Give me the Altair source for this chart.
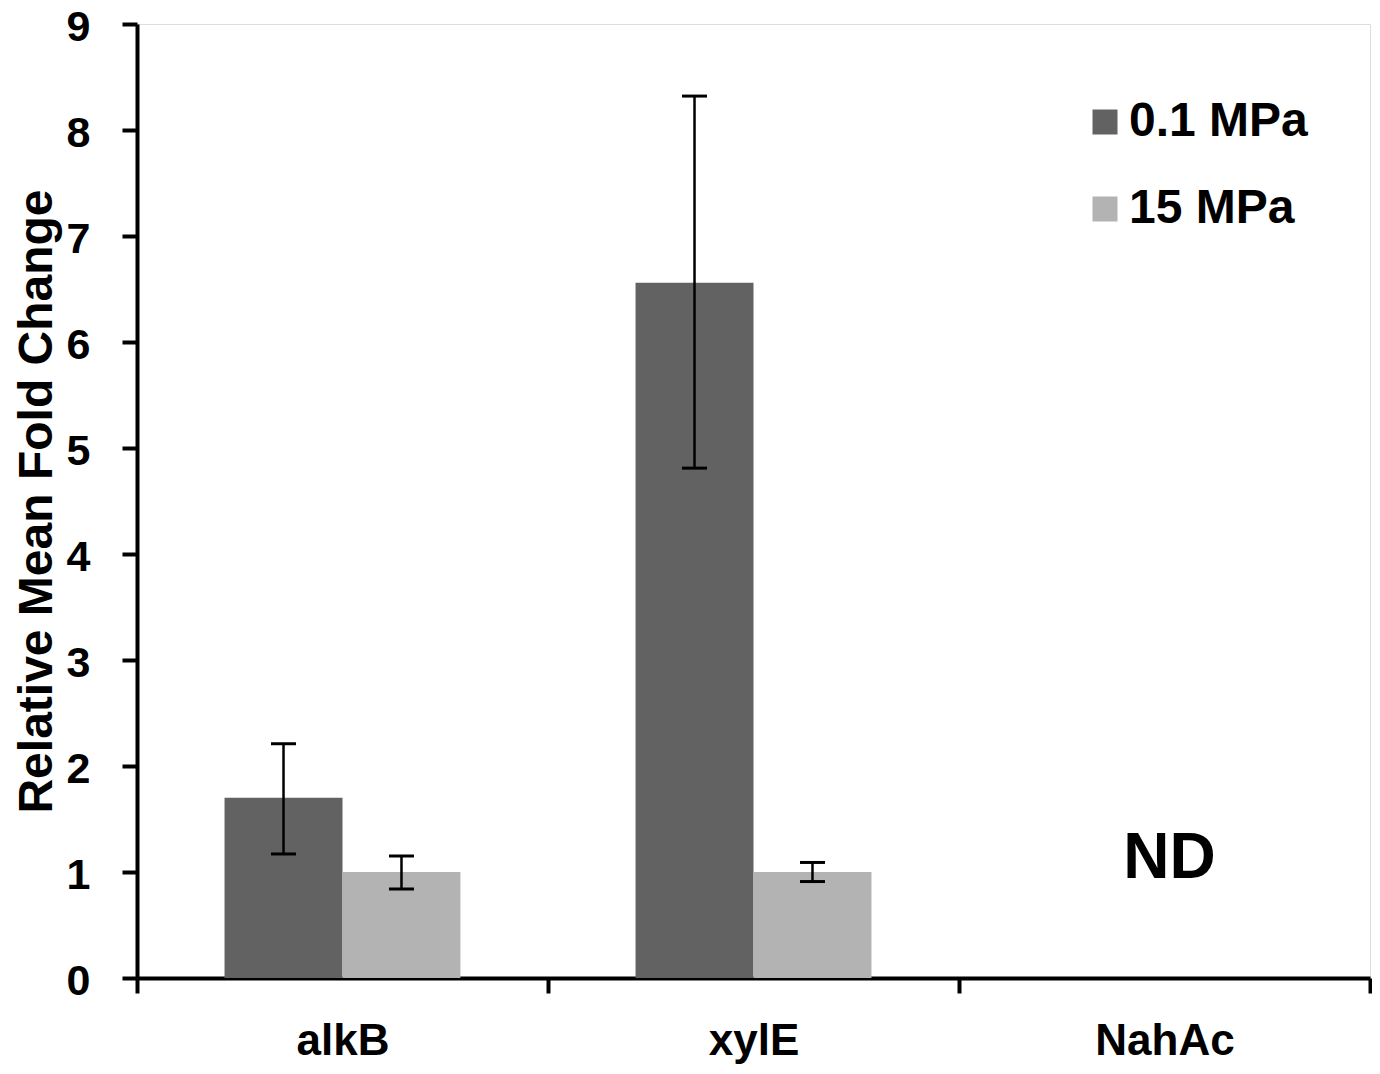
import altair as alt
import pandas as pd

# ---- data ----
genes = ["alkB", "alkB", "xylE", "xylE"]
pressures = ["0.1 MPa", "15 MPa", "0.1 MPa", "15 MPa"]
means = [1.70, 1.00, 6.56, 1.00]
lows = [1.17, 0.84, 4.81, 0.91]
highs = [2.21, 1.15, 8.32, 1.09]

categories = ["alkB", "xylE", "NahAc"]
series = ["0.1 MPa", "15 MPa"]
colors = ["#626262", "#b3b3b3"]
y_ticks = [0, 1, 2, 3, 4, 5, 6, 7, 8, 9]

nd_gene = ["NahAc"]
nd_text = ["ND"]
nd_value = [1.12]

df = pd.DataFrame({"gene": genes, "pressure": pressures,
                   "mean": means, "low": lows, "high": highs})
nd_df = pd.DataFrame({"gene": nd_gene, "label": nd_text, "value": nd_value})

FONT = "Liberation Sans"

xscale = alt.Scale(domain=categories, paddingInner=0, paddingOuter=0)
xaxis = alt.Axis(title=None, labelAngle=0, tickBand="extent",
                 labelFont=FONT, labelFontSize=44, labelFontWeight="bold",
                 labelColor="black", labelPadding=26,
                 domainColor="black", domainWidth=4,
                 tickColor="black", tickWidth=4, tickSize=15, grid=False)
xoscale = alt.Scale(domain=series, paddingInner=0, paddingOuter=0.742)
yscale = alt.Scale(domain=[0, 9], nice=False, zero=True)
yaxis = alt.Axis(title="Relative Mean Fold Change", values=y_ticks,
                 labelFont=FONT, labelFontSize=43, labelFontWeight="bold",
                 labelColor="black", labelPadding=32, labelOffset=3,
                 titleFont=FONT, titleFontSize=48, titleFontWeight="bold",
                 titleColor="black", titlePadding=5,
                 domainColor="black", domainWidth=4,
                 tickColor="black", tickWidth=4, tickSize=15, grid=False)

base = alt.Chart(df)

bars = base.mark_bar().encode(
    x=alt.X("gene:N", scale=xscale, axis=xaxis),
    xOffset=alt.XOffset("pressure:N", scale=xoscale),
    y=alt.Y("mean:Q", scale=yscale, axis=yaxis),
    color=alt.Color("pressure:N",
                    scale=alt.Scale(domain=series, range=colors),
                    legend=alt.Legend(orient="none", legendX=944, legendY=74,
                                      title=None, symbolType="square",
                                      symbolSize=625, symbolStrokeWidth=0,
                                      symbolOpacity=1,
                                      labelFont=FONT, labelFontSize=48,
                                      labelFontWeight="bold", labelColor="black",
                                      labelLimit=400,
                                      labelOffset=0, rowPadding=39, padding=0)),
)

rules = base.mark_rule(color="black", strokeWidth=2.5).encode(
    x=alt.X("gene:N", scale=xscale, axis=xaxis),
    xOffset=alt.XOffset("pressure:N", scale=xoscale),
    y=alt.Y("low:Q", scale=yscale, axis=yaxis),
    y2="high:Q",
)

caps_low = base.mark_tick(color="black", size=25, thickness=3, opacity=1).encode(
    x=alt.X("gene:N", scale=xscale, axis=xaxis),
    xOffset=alt.XOffset("pressure:N", scale=xoscale),
    y=alt.Y("low:Q", scale=yscale, axis=yaxis),
)
caps_high = base.mark_tick(color="black", size=25, thickness=3, opacity=1).encode(
    x=alt.X("gene:N", scale=xscale, axis=xaxis),
    xOffset=alt.XOffset("pressure:N", scale=xoscale),
    y=alt.Y("high:Q", scale=yscale, axis=yaxis),
)

nd = alt.Chart(nd_df).mark_text(font=FONT, fontSize=64, fontWeight="bold",
                                color="black", baseline="middle", align="center",
                                dx=5).encode(
    x=alt.X("gene:N", scale=xscale, axis=xaxis),
    y=alt.Y("value:Q", scale=yscale, axis=yaxis),
    text="label:N",
)

chart = alt.layer(bars, rules, caps_low, caps_high, nd).properties(
    width=1233, height=954,
    autosize=alt.AutoSizeParams(type="none"),
    padding={"left": 129, "top": 16, "right": 2, "bottom": 88},
).configure_view(stroke=None).configure(background="white")

chart.save("out.html", embed_options={"renderer": "svg", "actions": False})
